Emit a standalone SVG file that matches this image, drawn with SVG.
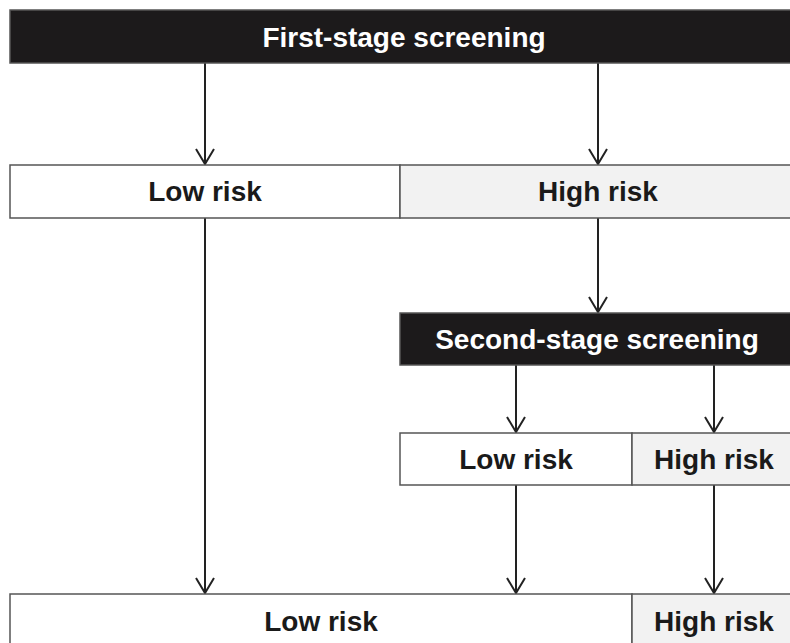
<svg xmlns="http://www.w3.org/2000/svg" width="790" height="643" viewBox="0 0 790 643">
<defs>
<style>
.dark{fill:#1c1a1b;stroke:#555;stroke-width:1.5}
.w{fill:#fff;stroke:#555;stroke-width:1.5}
.g{fill:#f2f2f2;stroke:#555;stroke-width:1.5}
.tw{font-family:"Liberation Sans",Arial,sans-serif;font-weight:bold;font-size:28px;fill:#fff;text-anchor:middle}
.tb{font-family:"Liberation Sans",Arial,sans-serif;font-weight:bold;font-size:28px;fill:#1a1a1a;text-anchor:middle}
.c{stroke:#222;stroke-width:2;fill:none;marker-end:url(#ah)}
</style>
<marker id="ah" markerUnits="userSpaceOnUse" markerWidth="24" markerHeight="24" refX="0" refY="0" viewBox="-12 -12 24 24" orient="auto" overflow="visible">
<path d="M-15,-9 L0,0 L-15,9" fill="none" stroke="#222" stroke-width="2"/>
</marker>
</defs>
<rect width="790" height="643" fill="#fff"/>
<g id="connectors">
<line class="c" x1="205" y1="63" x2="205" y2="164"/>
<line class="c" x1="598" y1="63" x2="598" y2="164"/>
<line class="c" x1="598" y1="218" x2="598" y2="312"/>
<line class="c" x1="205" y1="218" x2="205" y2="593"/>
<line class="c" x1="516" y1="365" x2="516" y2="432"/>
<line class="c" x1="714" y1="365" x2="714" y2="432"/>
<line class="c" x1="516" y1="485" x2="516" y2="593"/>
<line class="c" x1="714" y1="485" x2="714" y2="593"/>
</g>
<g id="first-stage">
<rect class="dark" x="10" y="10" width="790" height="53"/>
<text class="tw" x="404" y="47">First-stage screening</text>
</g>
<g id="low-risk-1">
<rect class="w" x="10" y="165" width="390" height="53"/>
<text class="tb" x="205" y="201">Low risk</text>
</g>
<g id="high-risk-1">
<rect class="g" x="400" y="165" width="400" height="53"/>
<text class="tb" x="598" y="201">High risk</text>
</g>
<g id="second-stage">
<rect class="dark" x="400" y="313" width="400" height="52"/>
<text class="tw" x="597" y="349">Second-stage screening</text>
</g>
<g id="low-risk-2">
<rect class="w" x="400" y="433" width="232" height="52"/>
<text class="tb" x="516" y="469">Low risk</text>
</g>
<g id="high-risk-2">
<rect class="g" x="632" y="433" width="168" height="52"/>
<text class="tb" x="714" y="469">High risk</text>
</g>
<g id="low-risk-final">
<rect class="w" x="10" y="594" width="622" height="60"/>
<text class="tb" x="321" y="631">Low risk</text>
</g>
<g id="high-risk-final">
<rect class="g" x="632" y="594" width="168" height="60"/>
<text class="tb" x="714" y="631">High risk</text>
</g>
</svg>
